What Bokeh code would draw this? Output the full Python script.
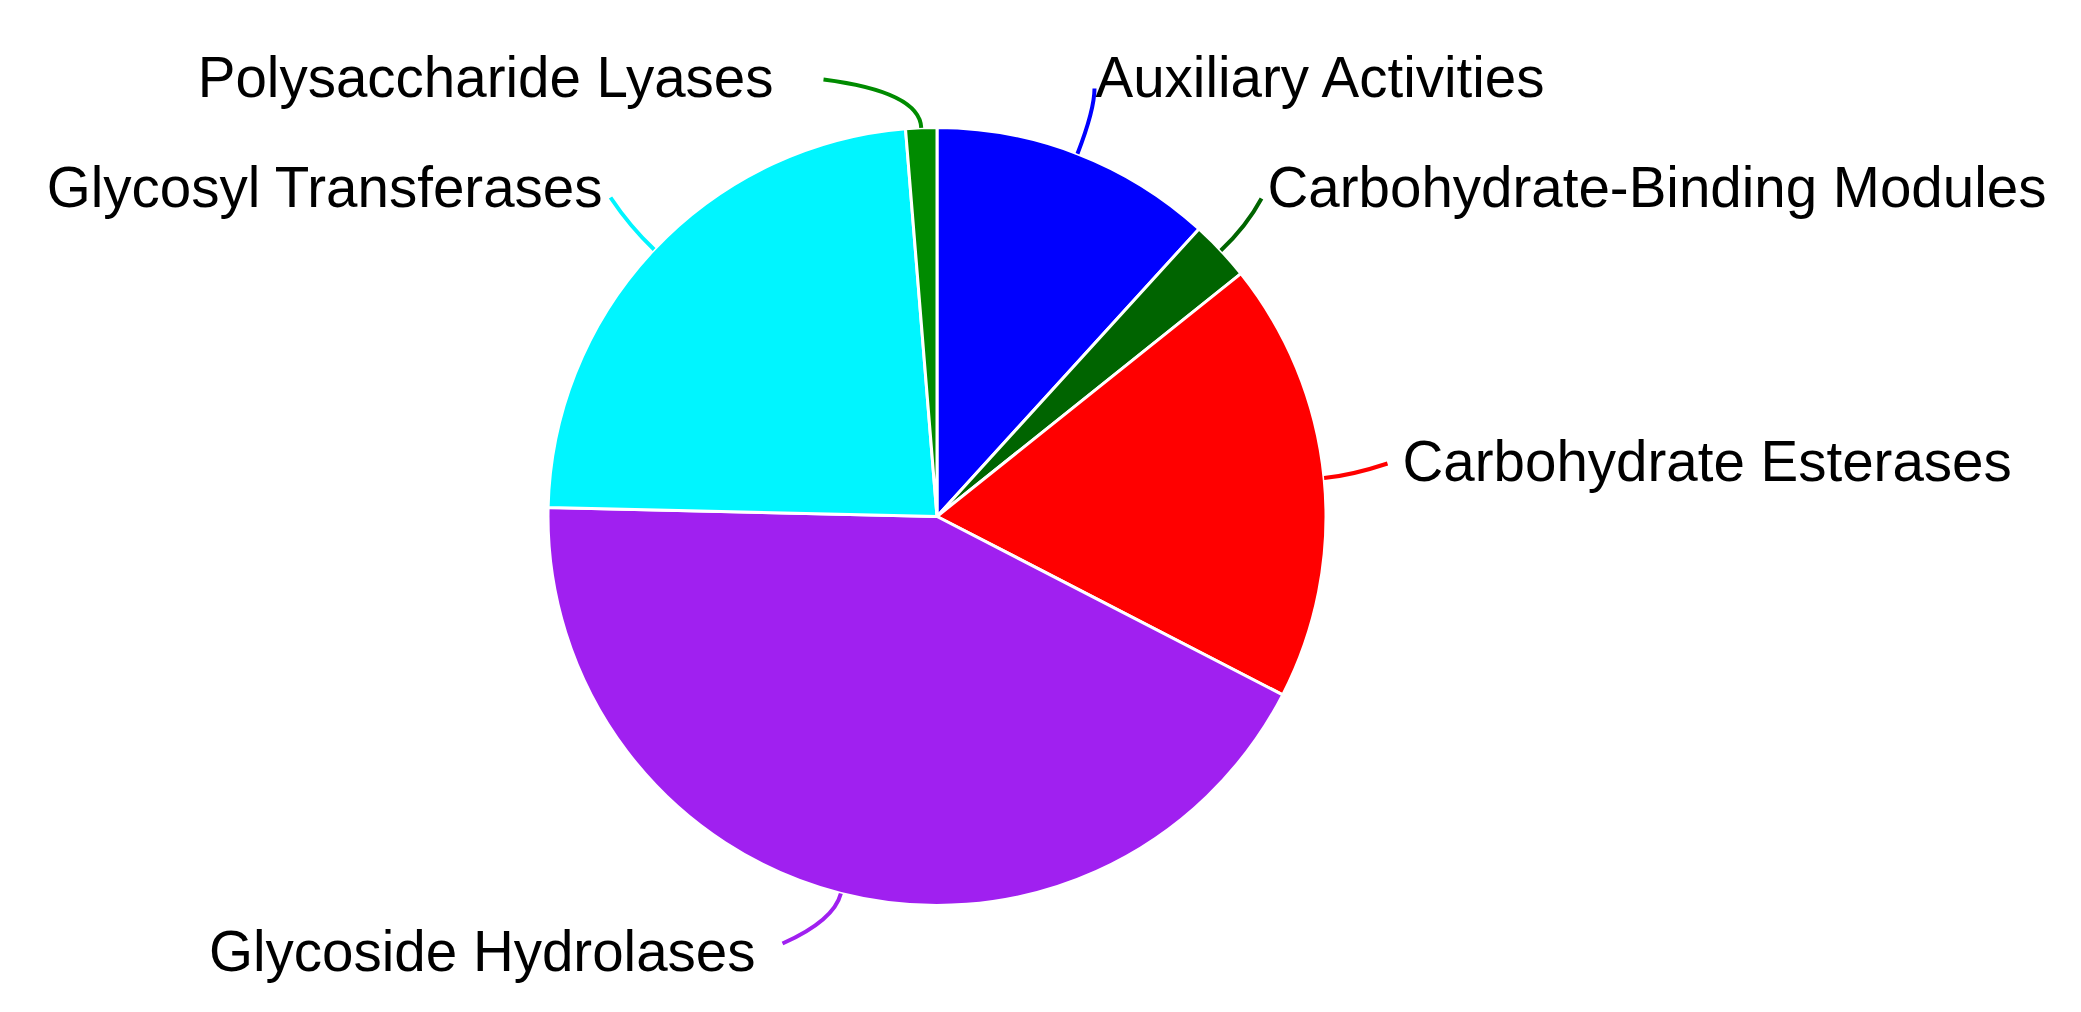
import math
from bokeh.plotting import figure
from bokeh.models import Range1d, ColumnDataSource
from bokeh.core.properties import value
from bokeh.embed import file_html
from bokeh.resources import INLINE

# ---- data (clockwise from 12 o'clock) ----
categories = ["Auxiliary Activities", "Carbohydrate-Binding Modules", "Carbohydrate Esterases",
              "Glycoside Hydrolases", "Glycosyl Transferases", "Polysaccharide Lyases"]
shares = [11.76, 2.51, 18.31, 42.79, 23.34, 1.29]

# ---- styles / layout ----
colors = ["#0000FF", "#006400", "#FF0000", "#A020F0", "#00F5FF", "#008B00"]
PAGE_H = 1012
W, H = 2065, 996
CX, CY, R = 936.5, PAGE_H - 516, 389
# label anchors (page px) and alignment
label_x = [1095, 1267, 1402, 755, 603, 773]
label_y = [77, 187, 461, 951, 187, 77]
label_align = ["left", "left", "left", "right", "right", "right"]
# leader end points (page px) and control distance along the radius
lead_x = [1094, 1261, 1387, 782, 610, 823]
lead_y = [88, 198, 463, 943, 197, 79]
lead_t = [47, 35, 28, 28, 33, 36]

p = figure(width=W, height=H, output_backend="svg", toolbar_location=None,
           x_range=Range1d(0, W), y_range=Range1d(PAGE_H - H, PAGE_H),
           min_border=0, outline_line_color=None)
p.axis.visible = False
p.grid.visible = False
p.background_fill_color = "white"

total = sum(shares)
starts, ends, mids = [], [], []
cum = 0.0
for s in shares:
    a0 = cum / total * 2 * math.pi
    cum += s
    a1 = cum / total * 2 * math.pi
    starts.append(math.pi / 2 - a0)
    ends.append(math.pi / 2 - a1)
    mids.append((a0 + a1) / 2)

src = ColumnDataSource(dict(x=[CX] * len(shares), y=[CY] * len(shares),
                            start=starts, end=ends, color=colors))
p.wedge(x="x", y="y", radius=R, start_angle="start", end_angle="end",
        direction="clock", fill_color="color", line_color="white", line_width=3, source=src)

# leader lines
x0s, y0s, x1s, y1s, cxs, cys = [], [], [], [], [], []
for m, ex, ey, t in zip(mids, lead_x, lead_y, lead_t):
    ux, uy = math.sin(m), math.cos(m)
    sx, sy = CX + R * ux, CY + R * uy
    x0s.append(sx); y0s.append(sy)
    cxs.append(sx + t * ux); cys.append(sy + t * uy)
    x1s.append(ex); y1s.append(PAGE_H - ey)
p.quadratic(x0=x0s, y0=y0s, x1=x1s, y1=y1s, cx=cxs, cy=cys,
            line_color=colors, line_width=4)

# labels
for name, lx, ly, al in zip(categories, label_x, label_y, label_align):
    p.text(x=[lx], y=[PAGE_H - ly], text=[name], text_align=al, text_baseline="alphabetic",
           text_font=value("Liberation Sans"), text_font_size="56.5px", text_color="black")

open("out.html", "w").write(file_html(p, INLINE))
